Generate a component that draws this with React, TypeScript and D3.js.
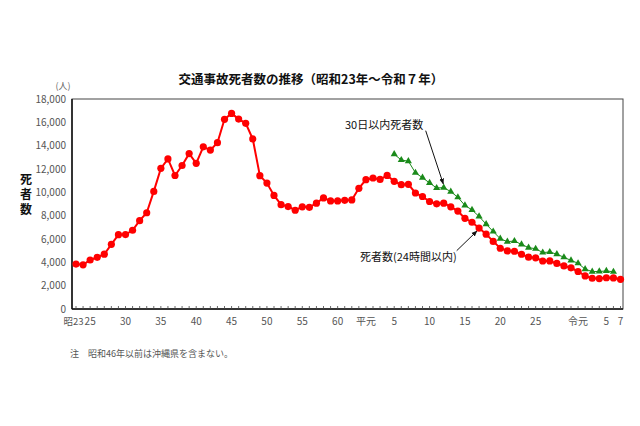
import React from "react";
import * as d3 from "d3";

const years24: number[] = d3.range(1948, 2026);
const deaths24: number[] = [
  3848, 3790, 4202, 4429, 4696, 5544, 6374, 6379, 6751, 7575,
  8248, 10079, 12055, 12865, 11445, 12301, 13318, 12484, 13904, 13618,
  14256, 16257, 16765, 16278, 15918, 14574, 11432, 10792, 9734, 8945,
  8783, 8466, 8760, 8719, 9073, 9520, 9262, 9261, 9317, 9347,
  10344, 11086, 11227, 11109, 11452, 10945, 10653, 10684, 9943, 9642,
  9214, 9012, 9073, 8757, 8396, 7768, 7436, 6937, 6415, 5796,
  5209, 4979, 4948, 4691, 4438, 4388, 4113, 4117, 3904, 3694,
  3532, 3215, 2839, 2636, 2610, 2678, 2663, 2547,
];
const years30: number[] = d3.range(1993, 2025);
const deaths30: number[] = [
  13269, 12768, 12670, 11674, 11254, 10805, 10372, 10403, 10060, 9575,
  8877, 8492, 7931, 7272, 6639, 6023, 5772, 5828, 5535, 5261,
  5165, 4838, 4885, 4698, 4431, 4166, 3920, 3416, 3205, 3216,
  3263, 3190,
];
const yTicks: number[] = [0, 2000, 4000, 6000, 8000, 10000, 12000, 14000, 16000, 18000];
const xTickYears: number[] = [1948, 1950, 1955, 1960, 1965, 1970, 1975, 1980, 1985, 1989, 1993, 1998, 2003, 2008, 2013, 2019, 2023, 2025];
const xTickLabels: string[] = ["昭23", "25", "30", "35", "40", "45", "50", "55", "60", "平元", "5", "10", "15", "20", "25", "令元", "5", "7"];

const FONT = "'Noto Sans CJK JP', 'Noto Sans', sans-serif";

export default function App() {
  const left = 72, right = 623, top = 99, bottom = 309;
  const x = d3.scaleLinear().domain([1948, 2025]).range([76, 620.5]);
  const y = d3.scaleLinear().domain([0, 18000]).range([bottom, top]);
  const line = d3.line<[number, number]>().x((d) => x(d[0])).y((d) => y(d[1]));
  const red: [number, number][] = years24.map((yr, i) => [yr, deaths24[i]]);
  const green: [number, number][] = years30.map((yr, i) => [yr, deaths30[i]]);
  const tri = d3.symbol().type(d3.symbolTriangle).size(22)();
  const allYears = d3.range(1948, 2026);

  return (
    <svg width={640} height={426} style={{ position: "absolute", left: 0, top: 0, background: "#fff" }} fontFamily={FONT}>
      <defs>
        <marker id="ah" viewBox="0 0 10 10" refX="9" refY="5" markerWidth="6" markerHeight="6" orient="auto">
          <path d="M0,1 L10,5 L0,9 z" fill="#111" />
        </marker>
      </defs>
      <rect x={0} y={0} width={640} height={426} fill="#fff" />
      <text x={311} y={84} textAnchor="middle" fontSize={12.5} fontWeight="bold" fill="#111">
        交通事故死者数の推移（昭和23年～令和７年）
      </text>
      <text x={63} y={89} textAnchor="middle" fontSize={9} fill="#666">(人)</text>
      <text x={26} y={173} fontSize={12} fontWeight="bold" fill="#111"
        style={{ writingMode: "vertical-rl", letterSpacing: "3px" }}>死者数</text>
      {yTicks.map((t) => (
        <text key={t} x={66} y={y(t) + 3.5} textAnchor="end" fontSize={10} fill="#555">{d3.format(",")(t)}</text>
      ))}
      <rect x={left} y={top} width={right - left} height={bottom - top} fill="none" stroke="#444" strokeWidth={1} />
      <line x1={left} y1={top} x2={left} y2={bottom} stroke="#111" strokeWidth={1.5} />
      <line x1={left} y1={bottom} x2={right} y2={bottom} stroke="#111" strokeWidth={1.5} />
      {allYears.map((yr) => (
        <line key={yr} x1={x(yr)} x2={x(yr)} y1={bottom} y2={bottom - 3} stroke="#444" strokeWidth={0.8} />
      ))}
      {xTickYears.map((yr, i) => (
        <text key={i} x={i === 0 ? x(yr) + 7.5 : x(yr)} y={325} textAnchor={i === 0 ? "end" : "middle"}
          fontSize={i === 0 ? 9.5 : 10} fill="#555">{xTickLabels[i]}</text>
      ))}
      <path d={line(green) ?? ""} fill="none" stroke="#1a8a1a" strokeWidth={1} />
      {green.map((d, i) => (
        <path key={i} d={tri ?? ""} transform={`translate(${x(d[0])},${y(d[1])})`} fill="#1a8a1a" />
      ))}
      <path d={line(red) ?? ""} fill="none" stroke="#ff0000" strokeWidth={2} />
      {red.map((d, i) => (
        <circle key={i} cx={x(d[0])} cy={y(d[1])} r={3.6} fill="#ff0000" />
      ))}
      <text x={345} y={129} fontSize={11} fill="#111">30日以内死者数</text>
      <line x1={425.7} y1={130.7} x2={443.3} y2={184} stroke="#111" strokeWidth={1} markerEnd="url(#ah)" />
      <text x={360} y={261} fontSize={11} fill="#111">死者数(24時間以内)</text>
      <line x1={456.7} y1={250.7} x2={477} y2={231} stroke="#111" strokeWidth={1} markerEnd="url(#ah)" />
      <text x={70} y={357} fontSize={9} fill="#555">注　昭和46年以前は沖縄県を含まない。</text>
    </svg>
  );
}
